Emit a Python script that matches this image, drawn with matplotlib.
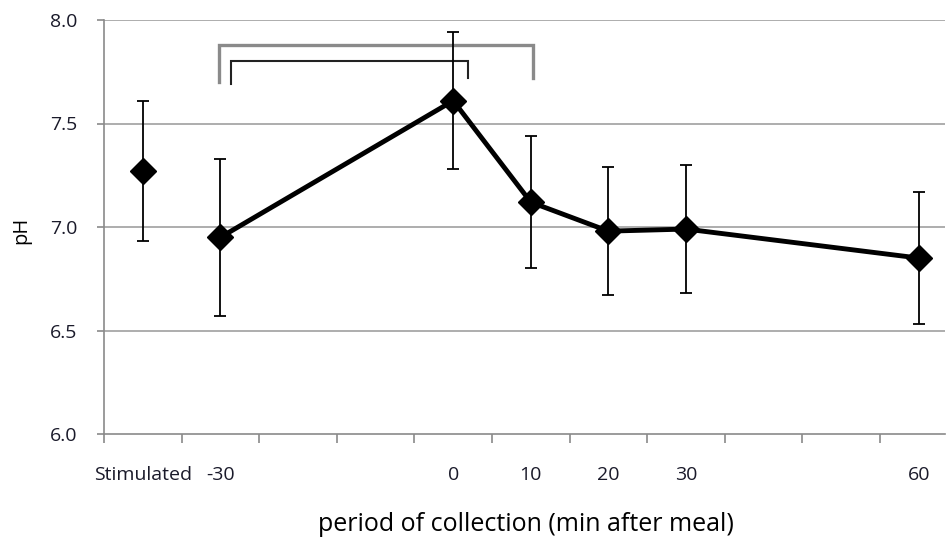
import matplotlib
matplotlib.use("Agg")
import matplotlib.pyplot as plt
import numpy as np

# data
labels = ["Stimulated", "-30", "0", "10", "20", "30", "60"]
slots = [0, 1, 4, 5, 6, 7, 10]          # category slot of each point
ph = [7.27, 6.95, 7.61, 7.12, 6.98, 6.99, 6.85]
err = [0.34, 0.38, 0.33, 0.32, 0.31, 0.31, 0.32]

# significance brackets: (x left, x right, y top, y left leg end, y right leg end)
brackets = [(1.48, 5.53, 7.88, 7.70, 7.72),
            (1.64, 4.69, 7.80, 7.69, 7.72)]
bracket_style = [("#8a8a8a", 2.4), ("#222222", 1.5)]

plt.rcParams['font.family'] = ['Open Sans', 'DejaVu Sans']

fig = plt.figure(figsize=(9.47, 5.40), dpi=100)
ax = fig.add_axes([104/947, 106/540, 841/947, 414/540])

x = np.array(slots) + 0.5

# gridlines
for g in [6.5, 7.0, 7.5, 8.0]:
    ax.axhline(g, color="#a0a0a0", lw=1.2, zorder=0)

# error bars
ax.errorbar(x, ph, yerr=err, fmt="none", ecolor="black", elinewidth=1.3,
            capsize=4.3, capthick=1.3, zorder=2)
# line from -30 onwards, stimulated point stands alone
ax.plot(x[1:], ph[1:], color="black", lw=3.5, zorder=3)
ax.plot(x, ph, ls="none", marker="D", ms=13, color="black", zorder=4)

# brackets
for (xl, xr, yt, yl, yr), (c, w) in zip(brackets, bracket_style):
    ax.plot([xl, xl, xr, xr], [yl, yt, yt, yr], color=c, lw=w,
            solid_joinstyle="miter", zorder=1)

ax.set_xlim(0, 841/77.6)
ax.set_ylim(6.0, 8.0)

ax.set_yticks([6.0, 6.5, 7.0, 7.5, 8.0])
ax.set_yticklabels(["6.0", "6.5", "7.0", "7.5", "8.0"], fontsize=14, color="#1a1a2a")
ax.tick_params(axis="y", length=5, width=1.2, color="#8a8a8a", pad=14)

ax.set_xticks(np.arange(0, 11))
ax.set_xticklabels([])
ax.tick_params(axis="x", which="major", length=6.5, width=1.2, color="#8a8a8a")
ax.set_xticks(x, minor=True)
ax.set_xticklabels(labels, minor=True, fontsize=14, color="#1a1a2a")
ax.tick_params(axis="x", which="minor", length=0, pad=23)

for s in ["top", "right"]:
    ax.spines[s].set_visible(False)
for s in ["left", "bottom"]:
    ax.spines[s].set_color("#8a8a8a")
    ax.spines[s].set_linewidth(1.2)

ax.set_ylabel("pH", fontsize=14.5, va="center")
ax.yaxis.set_label_coords(-0.0987, 0.493)
ax.set_xlabel("period of collection (min after meal)", fontsize=18, va="center")
ax.xaxis.set_label_coords(0.502, -0.218)

fig.savefig("out.png", dpi=100)
